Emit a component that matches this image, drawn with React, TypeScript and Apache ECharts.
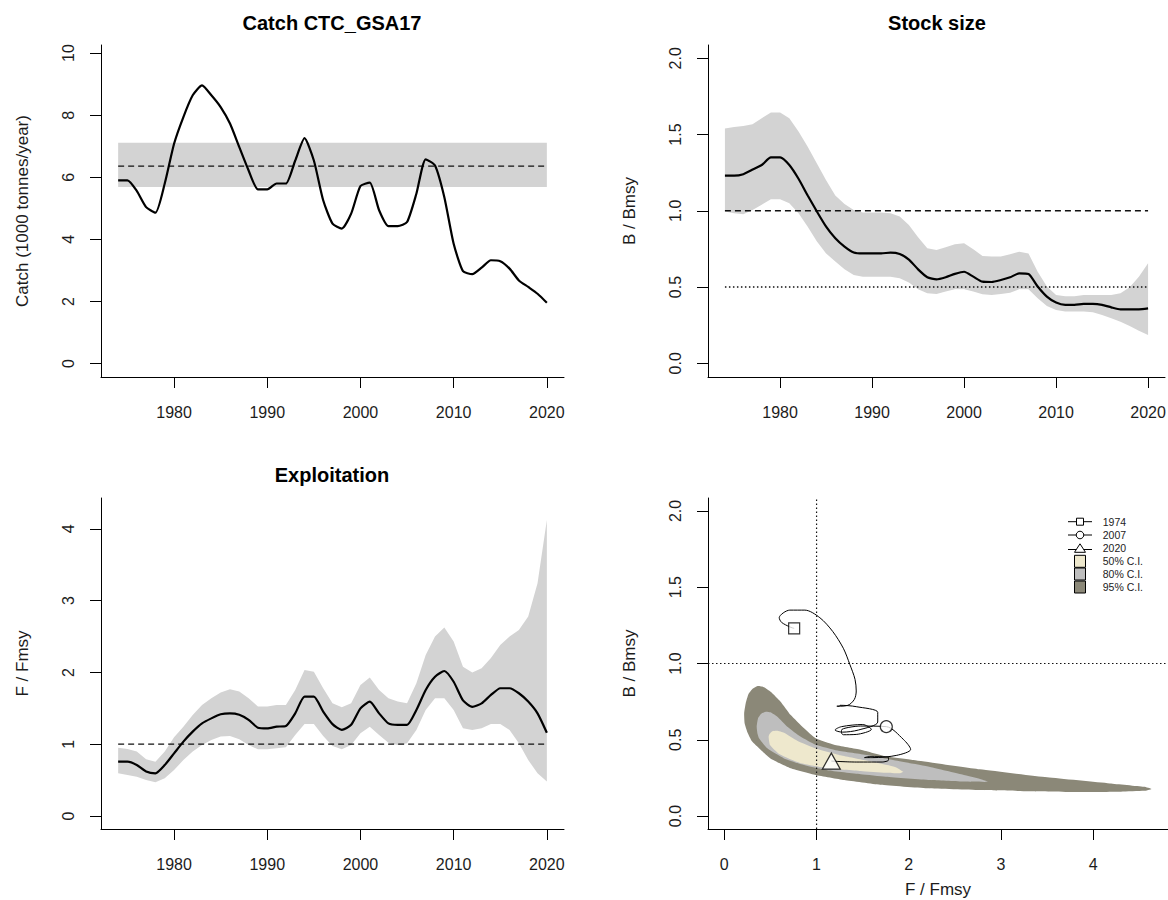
import React, { useEffect, useRef } from "react";
import * as echarts from "echarts";

// ---------------- data ----------------
const years = [
  1974, 1975, 1976, 1977, 1978, 1979, 1980, 1981, 1982, 1983,
  1984, 1985, 1986, 1987, 1988, 1989, 1990, 1991, 1992, 1993,
  1994, 1995, 1996, 1997, 1998, 1999, 2000, 2001, 2002, 2003,
  2004, 2005, 2006, 2007, 2008, 2009, 2010, 2011, 2012, 2013,
  2014, 2015, 2016, 2017, 2018, 2019, 2020,
];
const yearTicks = [1980, 1990, 2000, 2010, 2020];

const catchValues = [
  5.9, 5.9, 5.56, 5.04, 4.86, 5.8, 7.08, 7.94, 8.64, 8.96,
  8.64, 8.26, 7.73, 6.97, 6.22, 5.61, 5.61, 5.8, 5.8, 6.54,
  7.26, 6.54, 5.26, 4.51, 4.35, 4.83, 5.72, 5.83, 4.94, 4.43,
  4.43, 4.56, 5.47, 6.58, 6.38, 5.36, 3.86, 2.98, 2.88, 3.09,
  3.33, 3.3, 3.06, 2.68, 2.47, 2.25, 1.96,
];
const MSY = 6.36;
const MSY_LO = 5.69;
const MSY_HI = 7.11;
const catchTicks = [0, 2, 4, 6, 8, 10];

const bRatio = [
  1.23, 1.23, 1.24, 1.27, 1.3, 1.35, 1.35, 1.3, 1.21, 1.1,
  0.995, 0.896, 0.82, 0.765, 0.726, 0.72, 0.72, 0.72, 0.726, 0.717,
  0.68, 0.616, 0.564, 0.55, 0.564, 0.586, 0.6, 0.568, 0.535, 0.533,
  0.546, 0.564, 0.59, 0.586, 0.503, 0.437, 0.398, 0.383, 0.383, 0.389,
  0.389, 0.383, 0.367, 0.354, 0.354, 0.354, 0.36,
];
const bUpper = [
  1.54, 1.55, 1.556, 1.567, 1.607, 1.644, 1.644, 1.607, 1.52, 1.42,
  1.31, 1.2, 1.1, 1.045, 1.005, 0.988, 0.988, 0.988, 0.984, 0.962,
  0.907, 0.826, 0.754, 0.743, 0.76, 0.78, 0.787, 0.748, 0.704, 0.7,
  0.7, 0.715, 0.732, 0.72, 0.6, 0.503, 0.448, 0.44, 0.44, 0.448,
  0.448, 0.448, 0.448, 0.459, 0.498, 0.568, 0.656,
];
const bLower = [
  0.995, 0.984, 0.977, 1.005, 1.04, 1.075, 1.075, 1.05, 0.984, 0.896,
  0.798, 0.72, 0.667, 0.616, 0.579, 0.568, 0.568, 0.568, 0.568, 0.557,
  0.529, 0.485, 0.459, 0.455, 0.47, 0.485, 0.485, 0.47, 0.452, 0.448,
  0.455, 0.463, 0.485, 0.485, 0.426, 0.376, 0.35, 0.339, 0.339, 0.339,
  0.334, 0.317, 0.295, 0.273, 0.245, 0.214, 0.186,
];
const bTicks = [0, 0.5, 1, 1.5, 2];

const fRatio = [
  0.757, 0.757, 0.71, 0.62, 0.595, 0.71, 0.873, 1.036, 1.175, 1.29,
  1.36, 1.417, 1.43, 1.41, 1.34, 1.23, 1.22, 1.245, 1.254, 1.43,
  1.663, 1.663, 1.454, 1.28, 1.2, 1.27, 1.5, 1.594, 1.43, 1.29,
  1.27, 1.27, 1.477, 1.756, 1.94, 2.02, 1.87, 1.61, 1.52, 1.57,
  1.686, 1.78, 1.78, 1.71, 1.594, 1.43, 1.16,
];
const fUpper = [
  0.952, 0.934, 0.897, 0.79, 0.757, 0.897, 1.096, 1.245, 1.408, 1.547,
  1.64, 1.719, 1.765, 1.733, 1.64, 1.524, 1.524, 1.547, 1.547, 1.756,
  2.035, 2.01, 1.78, 1.57, 1.515, 1.57, 1.826, 1.928, 1.756, 1.64,
  1.594, 1.57, 1.85, 2.244, 2.5, 2.625, 2.43, 2.08, 1.998, 2.058,
  2.2, 2.383, 2.5, 2.59, 2.78, 3.243, 4.125,
];
const fLower = [
  0.595, 0.571, 0.548, 0.502, 0.469, 0.525, 0.641, 0.78, 0.897, 0.99,
  1.06, 1.106, 1.115, 1.069, 0.99, 0.929, 0.929, 0.943, 0.957, 1.129,
  1.282, 1.282, 1.115, 0.976, 0.929, 0.99, 1.152, 1.245, 1.129, 1.022,
  0.99, 1.013, 1.199, 1.477, 1.64, 1.64, 1.477, 1.222, 1.199, 1.222,
  1.282, 1.282, 1.199, 1.013, 0.78, 0.595, 0.479,
];
const fTicks = [0, 1, 2, 3, 4];

// Kobe confidence regions, [F/Fmsy, B/Bmsy]
const contour95 = [
  [0.36, 0.852], [0.3, 0.83], [0.262, 0.8], [0.232, 0.739], [0.215, 0.673],
  [0.22, 0.608], [0.25, 0.55], [0.3, 0.49], [0.36, 0.454], [0.5, 0.378],
  [0.72, 0.313], [0.99, 0.269], [1.3, 0.236], [1.69, 0.205], [2.2, 0.182],
  [2.77, 0.17], [3.3, 0.163], [3.8, 0.158], [4.3, 0.16], [4.55, 0.165],
  [4.63, 0.178], [4.55, 0.192], [4.18, 0.214], [3.5, 0.254], [2.77, 0.306],
  [2.05, 0.367], [1.76, 0.39], [1.48, 0.435], [1.19, 0.468], [0.99, 0.51],
  [0.864, 0.575], [0.72, 0.662], [0.61, 0.75], [0.503, 0.815], [0.43, 0.845],
];
const contour80 = [
  [0.449, 0.684], [0.4, 0.67], [0.365, 0.64], [0.351, 0.586], [0.36, 0.54],
  [0.376, 0.51], [0.466, 0.444], [0.647, 0.378], [0.864, 0.334], [1.117, 0.3],
  [1.48, 0.274], [1.75, 0.258], [2.23, 0.236], [2.58, 0.226], [2.86, 0.224],
  [2.8, 0.238], [2.58, 0.272], [2.23, 0.322], [1.84, 0.366], [1.55, 0.4],
  [1.226, 0.43], [0.991, 0.468], [0.829, 0.52], [0.683, 0.586], [0.575, 0.651],
  [0.5, 0.68],
];
const contour50 = [
  [0.52, 0.556], [0.49, 0.538], [0.48, 0.52], [0.495, 0.466], [0.6, 0.405],
  [0.82, 0.348], [1.117, 0.314], [1.48, 0.296], [1.75, 0.284], [1.905, 0.28],
  [1.94, 0.29], [1.85, 0.322], [1.55, 0.362], [1.26, 0.398], [0.991, 0.443],
  [0.79, 0.494], [0.647, 0.546], [0.57, 0.559],
];
const contourColors = ["#8B8878", "#BEBEBE", "#EEE8CD"]; // 95%, 80%, 50%
const legendYears = [1974, 2007, 2020];

// ---------------- helpers ----------------
const FONT = "'Liberation Sans', Arial, Helvetica, sans-serif";
const TXT = "#1c1c1c";

function xYearAxis(gridIndex: number) {
  return {
    type: "value",
    gridIndex,
    min: 1972.16,
    max: 2021.84,
    axisLine: { show: true, onZero: false, lineStyle: { color: "#000", width: 1 } },
    axisTick: { show: true, length: 11, customValues: yearTicks, lineStyle: { color: "#000" } },
    axisLabel: {
      customValues: yearTicks,
      margin: 27,
      fontSize: 16,
      color: TXT,
      fontFamily: FONT,
      formatter: (v: number) => String(v),
    },
    splitLine: { show: false },
  };
}

function yAxisDef(gridIndex: number, min: number, max: number, ticks: number[], name: string, dec: number) {
  return {
    type: "value",
    gridIndex,
    min,
    max,
    name,
    nameLocation: "middle",
    nameGap: 70,
    nameTextStyle: { fontSize: 17, color: TXT, fontFamily: FONT },
    axisLine: { show: true, onZero: false, lineStyle: { color: "#000", width: 1 } },
    axisTick: { show: true, length: 11, customValues: ticks, lineStyle: { color: "#000" } },
    axisLabel: {
      customValues: ticks,
      rotate: 90,
      margin: 25,
      fontSize: 16,
      color: TXT,
      fontFamily: FONT,
      formatter: (v: number) => v.toFixed(dec),
    },
    splitLine: { show: false },
  };
}

function bandSeries(axisIndex: number, lo: number[], hi: number[], color: string) {
  return {
    type: "custom",
    xAxisIndex: axisIndex,
    yAxisIndex: axisIndex,
    silent: true,
    z: 1,
    data: [[years[0], lo[0]]],
    renderItem: (_p: any, api: any) => {
      const pts: number[][] = [];
      for (let i = 0; i < years.length; i++) pts.push(api.coord([years[i], hi[i]]));
      for (let i = years.length - 1; i >= 0; i--) pts.push(api.coord([years[i], lo[i]]));
      return { type: "polygon", shape: { points: pts }, style: { fill: color } };
    },
  };
}

function refLine(axisIndex: number, data: number[][], type: any, width = 1.2) {
  return {
    type: "line",
    xAxisIndex: axisIndex,
    yAxisIndex: axisIndex,
    data,
    symbol: "none",
    silent: true,
    z: 2,
    lineStyle: { color: "#111", width, type },
  };
}

const DASH = [6, 4];
const DOT = [1.5, 2.5];

export default function App() {
  const ref = useRef<HTMLDivElement>(null);

  useEffect(() => {
    if (!ref.current) return;
    const chart = echarts.init(ref.current, undefined, { renderer: "svg" });

    const contours = [contour95, contour80, contour50];
    const idx = (y: number) => years.indexOf(y);

    const option: any = {
      animation: false,
      textStyle: { fontFamily: FONT },
      grid: [
        { left: 101, top: 45, width: 463, height: 332, outerBoundsMode: "none" },
        { left: 708, top: 45, width: 457, height: 332, outerBoundsMode: "none" },
        { left: 101, top: 498, width: 463, height: 331, outerBoundsMode: "none" },
        { left: 708, top: 498, width: 460, height: 331, outerBoundsMode: "none" },
      ],
      xAxis: [
        xYearAxis(0),
        xYearAxis(1),
        xYearAxis(2),
        {
          type: "value",
          gridIndex: 3,
          min: -0.177,
          max: 4.81,
          name: "F / Fmsy",
          nameLocation: "middle",
          nameGap: 52,
          nameTextStyle: { fontSize: 17, color: TXT, fontFamily: FONT },
          axisLine: { show: true, onZero: false, lineStyle: { color: "#000", width: 1 } },
          axisTick: { show: true, length: 11, customValues: fTicks, lineStyle: { color: "#000" } },
          axisLabel: { customValues: fTicks, margin: 27, fontSize: 16, color: TXT, fontFamily: FONT },
          splitLine: { show: false },
        },
      ],
      yAxis: [
        yAxisDef(0, -0.43, 10.26, catchTicks, "Catch (1000 tonnes/year)", 0),
        yAxisDef(1, -0.09, 2.087, bTicks, "B / Bmsy", 1),
        yAxisDef(2, -0.181, 4.43, fTicks, "F / Fmsy", 0),
        yAxisDef(3, -0.085, 2.085, bTicks, "B / Bmsy", 1),
      ],
      series: [
        // Panel 1: catch
        {
          type: "custom",
          xAxisIndex: 0,
          yAxisIndex: 0,
          silent: true,
          z: 1,
          data: [[years[0], MSY_LO]],
          renderItem: (_p: any, api: any) => {
            const a = api.coord([years[0], MSY_HI]);
            const b = api.coord([years[years.length - 1], MSY_LO]);
            return {
              type: "polygon",
              shape: { points: [a, [b[0], a[1]], b, [a[0], b[1]]] },
              style: { fill: "#d3d3d3" },
            };
          },
        },
        refLine(0, [[years[0], MSY], [years[years.length - 1], MSY]], DASH, 1.3),
        {
          type: "line",
          xAxisIndex: 0,
          yAxisIndex: 0,
          data: years.map((y, i) => [y, catchValues[i]]),
          symbol: "none",
          smooth: 0.2,
          z: 3,
          lineStyle: { color: "#000", width: 2.2 },
        },
        // Panel 2: stock size
        bandSeries(1, bLower, bUpper, "#d3d3d3"),
        refLine(1, [[years[0], 1], [years[years.length - 1], 1]], DASH, 1.3),
        refLine(1, [[years[0], 0.5], [years[years.length - 1], 0.5]], DOT, 1.3),
        {
          type: "line",
          xAxisIndex: 1,
          yAxisIndex: 1,
          data: years.map((y, i) => [y, bRatio[i]]),
          symbol: "none",
          smooth: 0.2,
          z: 3,
          lineStyle: { color: "#000", width: 2.2 },
        },
        // Panel 3: exploitation
        bandSeries(2, fLower, fUpper, "#d3d3d3"),
        refLine(2, [[years[0], 1], [years[years.length - 1], 1]], DASH, 1.3),
        {
          type: "line",
          xAxisIndex: 2,
          yAxisIndex: 2,
          data: years.map((y, i) => [y, fRatio[i]]),
          symbol: "none",
          smooth: 0.2,
          z: 3,
          lineStyle: { color: "#000", width: 2.2 },
        },
        // Panel 4: Kobe
        {
          type: "custom",
          xAxisIndex: 3,
          yAxisIndex: 3,
          silent: true,
          z: 1,
          data: contours.map((c, i) => [c[0][0], c[0][1], i]),
          renderItem: (p: any, api: any) => {
            const c = contours[p.dataIndex];
            return {
              type: "polygon",
              shape: { points: c.map((pt) => api.coord(pt)), smooth: 0.15 },
              style: { fill: contourColors[p.dataIndex] },
            };
          },
        },
        refLine(3, [[1, -0.085], [1, 2.085]], DOT, 1.2),
        refLine(3, [[-0.177, 1], [4.81, 1]], DOT, 1.2),
        {
          type: "line",
          xAxisIndex: 3,
          yAxisIndex: 3,
          data: years.map((_y, i) => [fRatio[i], bRatio[i]]),
          symbol: "none",
          smooth: 0.3,
          z: 3,
          lineStyle: { color: "#000", width: 1 },
        },
        {
          type: "scatter",
          xAxisIndex: 3,
          yAxisIndex: 3,
          z: 4,
          symbol: "rect",
          symbolSize: 11,
          itemStyle: { color: "#fff", borderColor: "#000", borderWidth: 1.2 },
          data: [[fRatio[idx(legendYears[0])], bRatio[idx(legendYears[0])]]],
        },
        {
          type: "scatter",
          xAxisIndex: 3,
          yAxisIndex: 3,
          z: 4,
          symbol: "circle",
          symbolSize: 12,
          itemStyle: { color: "#fff", borderColor: "#000", borderWidth: 1.2 },
          data: [[fRatio[idx(legendYears[1])], bRatio[idx(legendYears[1])]]],
        },
        {
          type: "scatter",
          xAxisIndex: 3,
          yAxisIndex: 3,
          z: 4,
          symbol: "triangle",
          symbolSize: [18, 16],
          itemStyle: { color: "#fff", borderColor: "#000", borderWidth: 1.2 },
          data: [[fRatio[idx(legendYears[2])], bRatio[idx(legendYears[2])]]],
        },
      ],
      graphic: [
        {
          type: "text", x: 332, y: 23,
          style: { text: "Catch CTC_GSA17", fontSize: 20, fontWeight: "bold", fontFamily: FONT, fill: "#000", align: "center", verticalAlign: "middle" },
        },
        {
          type: "text", x: 937, y: 23,
          style: { text: "Stock size", fontSize: 20, fontWeight: "bold", fontFamily: FONT, fill: "#000", align: "center", verticalAlign: "middle" },
        },
        {
          type: "text", x: 332, y: 475,
          style: { text: "Exploitation", fontSize: 20, fontWeight: "bold", fontFamily: FONT, fill: "#000", align: "center", verticalAlign: "middle" },
        },
        {
          type: "text", x: 532, y: 148,
          style: { text: "MSY", fontSize: 9, fontFamily: FONT, fill: "#555", align: "center", verticalAlign: "middle" },
        },
        // legend
        {
          type: "group",
          children: [
            { type: "line", shape: { x1: 1068, y1: 521.7, x2: 1092, y2: 521.7 }, style: { stroke: "#000", lineWidth: 1 } },
            { type: "rect", shape: { x: 1076.5, y: 518.2, width: 7, height: 7 }, style: { fill: "#fff", stroke: "#000", lineWidth: 1 } },
            { type: "line", shape: { x1: 1068, y1: 535, x2: 1092, y2: 535 }, style: { stroke: "#000", lineWidth: 1 } },
            { type: "circle", shape: { cx: 1080, cy: 535, r: 3.8 }, style: { fill: "#fff", stroke: "#000", lineWidth: 1 } },
            { type: "line", shape: { x1: 1068, y1: 549.5, x2: 1092, y2: 549.5 }, style: { stroke: "#000", lineWidth: 1 } },
            { type: "polygon", shape: { points: [[1080, 543.8], [1085.5, 552.3], [1074.5, 552.3]] }, style: { fill: "#fff", stroke: "#000", lineWidth: 1 } },
            { type: "rect", shape: { x: 1074.5, y: 555.3, width: 11, height: 12 }, style: { fill: contourColors[2], stroke: "#000", lineWidth: 1 } },
            { type: "rect", shape: { x: 1074.5, y: 568, width: 11, height: 12 }, style: { fill: contourColors[1], stroke: "#000", lineWidth: 1 } },
            { type: "rect", shape: { x: 1074.5, y: 581, width: 11, height: 12 }, style: { fill: contourColors[0], stroke: "#000", lineWidth: 1 } },
            ...[
              [String(legendYears[0]), 521.7],
              [String(legendYears[1]), 535],
              [String(legendYears[2]), 548.3],
              ["50% C.I.", 561.3],
              ["80% C.I.", 574],
              ["95% C.I.", 587],
            ].map(([t, y]) => ({
              type: "text",
              x: 1102.7,
              y: y as number,
              style: { text: t as string, fontSize: 10.5, fontFamily: FONT, fill: "#222", align: "left", verticalAlign: "middle" },
            })),
          ],
        },
      ],
    };

    chart.setOption(option);
    return () => chart.dispose();
  }, []);

  return (
    <div
      ref={ref}
      style={{ position: "absolute", left: 0, top: 0, width: 1168, height: 900, background: "#fff" }}
    />
  );
}
